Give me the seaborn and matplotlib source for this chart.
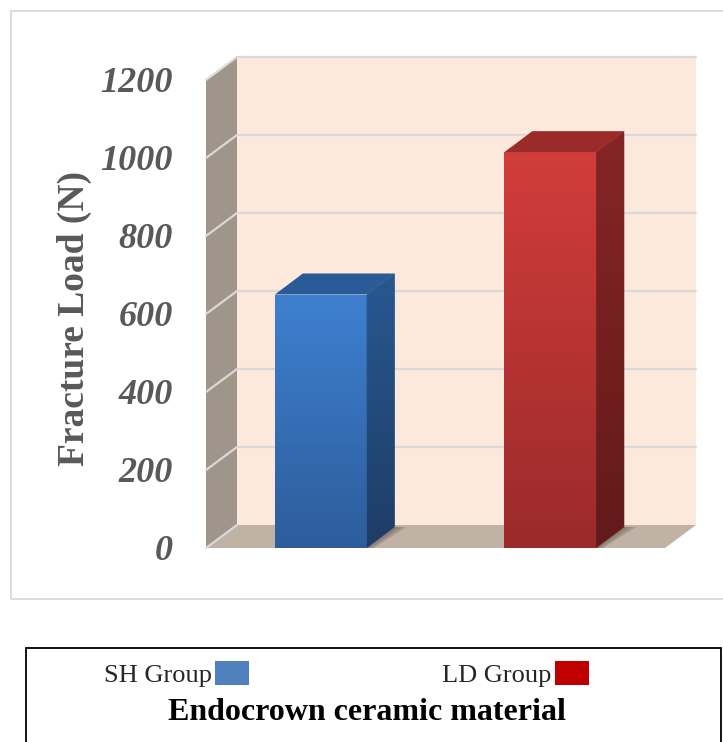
import numpy as np
import pandas as pd
import matplotlib
matplotlib.use("Agg")
import matplotlib.pyplot as plt
import seaborn as sns
from matplotlib.patches import Polygon, Rectangle, Patch
from matplotlib.colors import LinearSegmentedColormap
from matplotlib.font_manager import FontProperties

# ---- data -------------------------------------------------------------
groups = ["SH Group", "LD Group"]
fracture_load = [650, 1015]
legend_colors = ["#4f81bd", "#c00000"]
y_ticks = [0, 200, 400, 600, 800, 1000, 1200]
y_label = "Fracture Load (N)"
x_title = "Endocrown ceramic material"

# ---- shading for the 3-D columns --------------------------------------
front_shades = [("#2d5d9b", "#3e80d0"), ("#9b2a2a", "#d13d3b")]   # (bottom, top)
top_shades = ["#2b5b96", "#9a2b29"]
side_shades = [("#1e3d66", "#285891"), ("#621a1a", "#862525")]

sns.set_theme(style="white")
plt.rcParams["font.family"] = ["Liberation Serif", "DejaVu Serif"]

tick_font = FontProperties(family="Liberation Serif", weight="bold",
                           style="italic", size=26)
label_font = FontProperties(family="Liberation Serif", weight="bold", size=27)
legend_font = FontProperties(family="Liberation Serif", size=19)
title_font = FontProperties(family="Liberation Serif", weight="bold", size=23)

W, H, DPI = 723, 742, 100
fig = plt.figure(figsize=(W / DPI, H / DPI), dpi=DPI)
ax = fig.add_axes([206 / W, 1 - 548 / H, 459 / W, 468 / H])

df = pd.DataFrame({"group": groups, "load": fracture_load})
sns.barplot(data=df, x="group", y="load", hue="group",
            palette=[s[1] for s in front_shades], width=0.4,
            saturation=1, legend=False, ax=ax, zorder=5)

XL, YL = (-0.5, 1.5), (0, 1200)
ax.set_xlim(*XL)
ax.set_ylim(*YL)
ux = (XL[1] - XL[0]) / 459.0     # data units per pixel
uy = (YL[1] - YL[0]) / 468.0

# depth of the chart box and of the columns, in pixels
wdx, wdy = 31 * ux, 23 * uy
bdx, bdy = 28 * ux, 21 * uy

wall_kw = dict(clip_on=False, linewidth=0)
# back wall
ax.add_patch(Polygon([(XL[0] + wdx, wdy), (XL[1] + wdx, wdy),
                      (XL[1] + wdx, YL[1] + wdy), (XL[0] + wdx, YL[1] + wdy)],
                     facecolor="#fde9dc", zorder=0, **wall_kw))
# side wall
ax.add_patch(Polygon([(XL[0], 0), (XL[0], YL[1]),
                      (XL[0] + wdx, YL[1] + wdy), (XL[0] + wdx, wdy)],
                     facecolor="#a0958b", zorder=0, **wall_kw))
# floor
ax.add_patch(Polygon([(XL[0], 0), (XL[1], 0),
                      (XL[1] + wdx, wdy), (XL[0] + wdx, wdy)],
                     facecolor="#c1b2a6", zorder=0, **wall_kw))

# gridlines on back wall and side wall
for v in y_ticks:
    if v > 0:
        ax.plot([XL[0] + wdx, XL[1] + wdx], [v + wdy, v + wdy],
                color="#d9d9d9", lw=1.6, zorder=1, clip_on=False)
    ax.plot([XL[0], XL[0] + wdx], [v, v + wdy],
            color="#d9d9d9", lw=1.6, zorder=1, clip_on=False)

bars = [p for p in ax.patches if isinstance(p, Rectangle)]
grad = np.linspace(0, 1, 256).reshape(-1, 1)
for i, p in enumerate(bars):
    x0, w, h = p.get_x(), p.get_width(), p.get_height()
    x1 = x0 + w
    p.set_edgecolor("none")

    # soft shadow on the floor to the right of the column
    for k, a in zip(range(3), (0.18, 0.18, 0.2)):
        spread = (4 + 4 * k) * ux
        ax.add_patch(Polygon([(x1, 0), (x1 + bdx, bdy),
                              (x1 + bdx + spread, bdy), (x1 + spread * 0.6, 0)],
                             facecolor="#4a3f38", alpha=a, zorder=2,
                             clip_on=False, linewidth=0))

    # vertical gradient on the front face
    cmap = LinearSegmentedColormap.from_list("f%d" % i, list(front_shades[i]))
    im = ax.imshow(grad, extent=[x0, x1, 0, h], origin="lower",
                   aspect="auto", cmap=cmap, zorder=6)
    im.set_clip_path(p)

    # top face
    ax.add_patch(Polygon([(x0, h), (x1, h), (x1 + bdx, h + bdy), (x0 + bdx, h + bdy)],
                         facecolor=top_shades[i], zorder=6, clip_on=False,
                         linewidth=0))
    # side face with its own gradient
    side = Polygon([(x1, 0), (x1, h), (x1 + bdx, h + bdy), (x1 + bdx, bdy)],
                   facecolor=side_shades[i][1], zorder=6, clip_on=False,
                   linewidth=0)
    ax.add_patch(side)
    scmap = LinearSegmentedColormap.from_list("s%d" % i, list(side_shades[i]))
    sim = ax.imshow(grad, extent=[x1, x1 + bdx, 0, h + bdy], origin="lower",
                    aspect="auto", cmap=scmap, zorder=6.5)
    sim.set_clip_path(side)

ax.set_xlim(*XL)
ax.set_ylim(*YL)

# axes styling
ax.patch.set_visible(False)
for s in ax.spines.values():
    s.set_visible(False)
ax.set_xticks([])
ax.set_xlabel("")
ax.set_yticks(y_ticks)
ax.set_yticklabels([str(v) for v in y_ticks], fontproperties=tick_font,
                   color="#595959")
ax.tick_params(axis="y", length=0, pad=24)
ax.set_ylabel(y_label, fontproperties=label_font, color="#595959")
ax.yaxis.set_label_coords(-0.248, 0.49)

# chart border
fig.add_artist(Rectangle((11 / W, 1 - 599 / H), (725 - 11) / W, (599 - 11) / H,
                         transform=fig.transFigure, fill=False,
                         edgecolor="#d9d9d9", lw=1.3))

# legend box with entries and axis title
fig.add_artist(Rectangle((26 / W, 1 - 746 / H), (721 - 26) / W, (746 - 648) / H,
                         transform=fig.transFigure, fill=False,
                         edgecolor="black", lw=1.3))
handles = [Patch(facecolor=c, edgecolor="none") for c in legend_colors]
fig.legend(handles, groups, loc="center", bbox_to_anchor=(346.5 / W, 1 - 674 / H),
           ncol=2, markerfirst=False, frameon=False, prop=legend_font,
           handlelength=1.3, handleheight=1.05, handletextpad=0.12,
           columnspacing=7.3)
fig.text(367 / W, 1 - 712 / H, x_title, ha="center", va="center",
         fontproperties=title_font, color="black")

fig.savefig("out.png", dpi=DPI)
